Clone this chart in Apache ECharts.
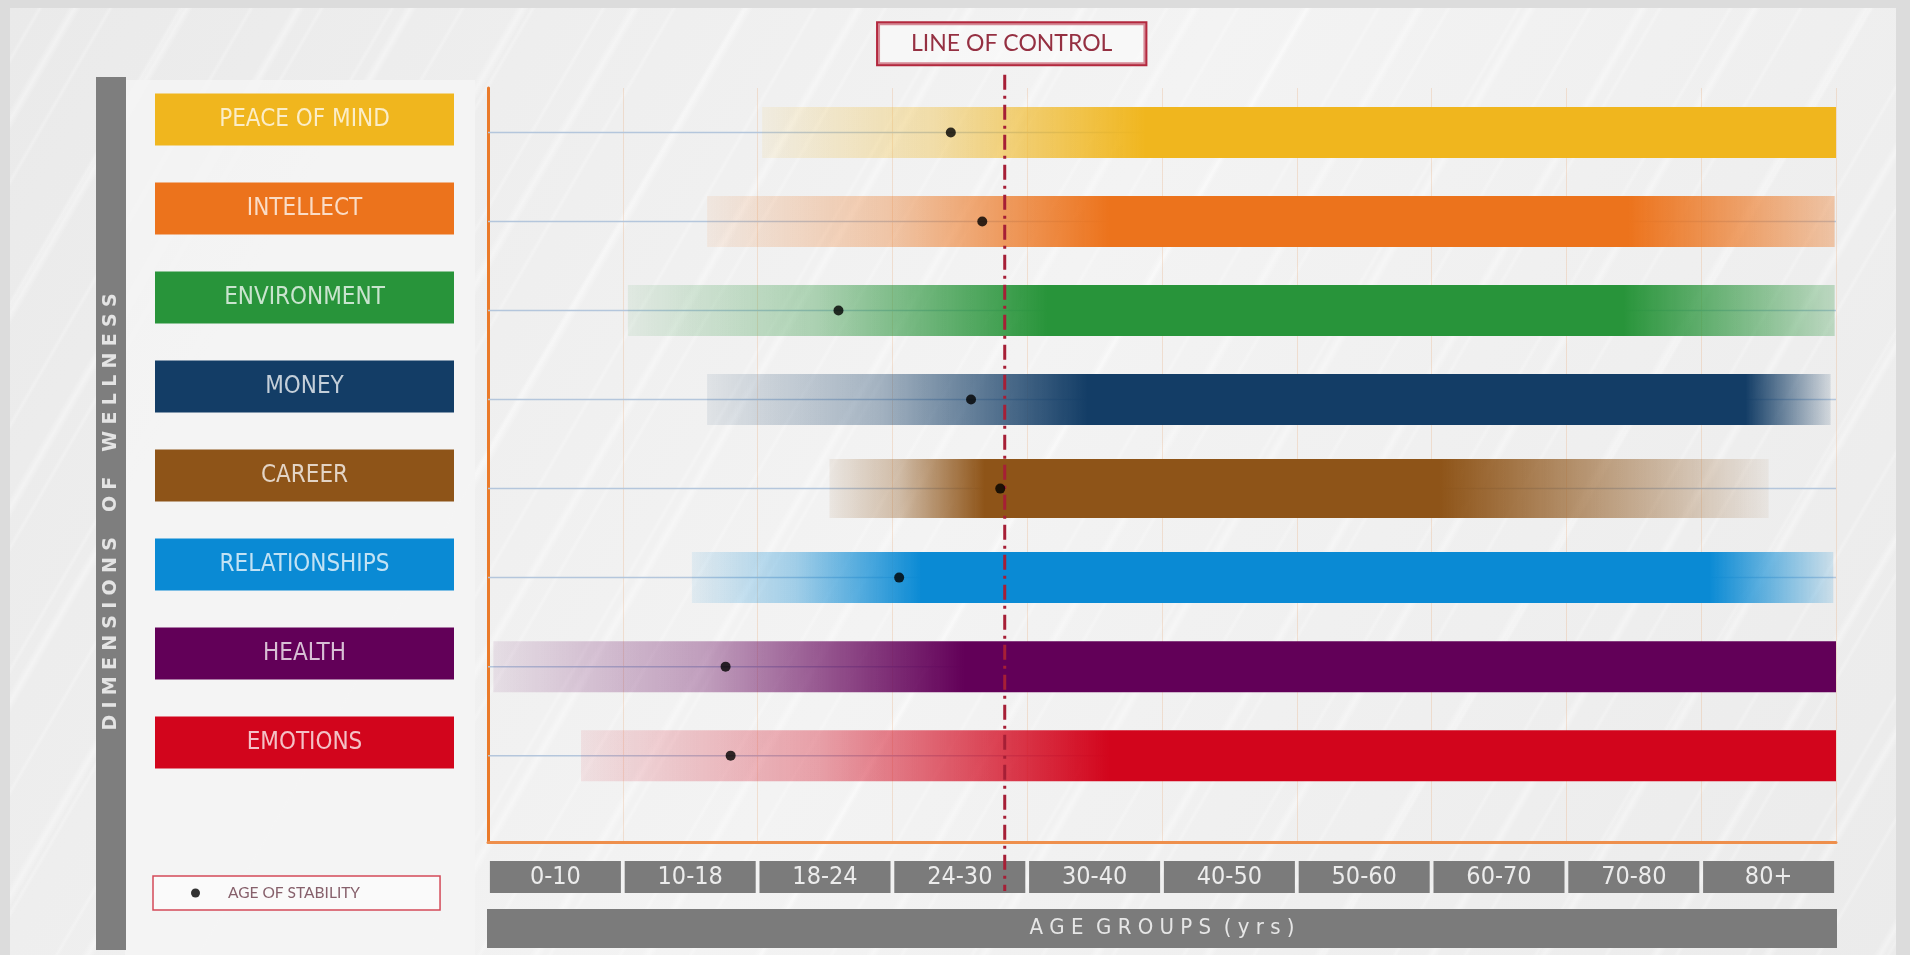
<!DOCTYPE html>
<html>
<head>
<meta charset="utf-8">
<title>Dimensions of Wellness</title>
<script src="https://cdn.jsdelivr.net/npm/echarts@6/dist/echarts.min.js"></script>
<style>
  html, body { margin: 0; padding: 0; width: 1910px; height: 955px; overflow: hidden; background: #dcdcdc; }
  #panel {
    position: absolute; left: 10px; top: 8px; width: 1886px; height: 947px;
    background:
      repeating-linear-gradient(120deg, rgba(255,255,255,0) 0px, rgba(255,255,255,0) 50px,
        rgba(255,255,255,0.38) 56px, rgba(255,255,255,0) 62px, rgba(255,255,255,0) 97px),
      repeating-linear-gradient(120deg, rgba(255,255,255,0) 0px, rgba(255,255,255,0) 23px,
        rgba(255,255,255,0.25) 26px, rgba(255,255,255,0) 29px, rgba(255,255,255,0) 61px),
      linear-gradient(120deg, #eaeaea, #f3f3f3 50%, #ebebeb);
  }
  #chart { position: absolute; left: 0; top: 0; width: 1910px; height: 955px; }
</style>
</head>
<body>
<div id="panel"></div>
<div id="chart"></div>
<script>
// rows, top to bottom
var dimensions = ["PEACE OF MIND", "INTELLECT", "ENVIRONMENT", "MONEY", "CAREER", "RELATIONSHIPS", "HEALTH", "EMOTIONS"];
var ageGroups = ["0-10", "10-18", "18-24", "24-30", "30-40", "40-50", "50-60", "60-70", "70-80", "80+"];
var ageEdges = [0, 10, 18, 24, 30, 40, 50, 60, 70, 80, 90];

// ages (yrs): band appears, becomes full, starts to fade, ends
var bandStart = [18.2, 15.0, 10.3, 15.0, 21.2, 14.1, 0.4, 6.9];
var solidFrom = [38.8, 36.1, 31.5, 34.5, 28.1, 25.3, 27.2, 36.1];
var solidTo = [90, 74.6, 74.2, 83.3, 60.6, 80.6, 90, 90];
var bandEnd = [90, 89.9, 89.9, 89.6, 85.0, 89.8, 90, 90];

var ageOfStability = [26.6, 28.0, 21.6, 27.5, 28.8, 24.3, 16.1, 16.4];
var lineOfControl = 29.0;

// styles
var dimColors = ["#f0b61e", "#ec731c", "#28943a", "#133d66", "#8e5418", "#0a8ad4", "#620058", "#d2051c"];
var endAlpha = [1, 0.35, 0.25, 0.12, 0.06, 0.15, 1, 1];
var narrow = '"Liberation Sans Narrow", "DejaVu Sans Condensed", Roboto, sans-serif';
var yMax = 8.47;

function ageToPos(a) {
    for (var i = 0; i < ageEdges.length - 1; i++) {
        if (a <= ageEdges[i + 1]) return i + (a - ageEdges[i]) / (ageEdges[i + 1] - ageEdges[i]);
    }
    return ageEdges.length - 1;
}

function rgb(hex) {
    return [parseInt(hex.slice(1, 3), 16), parseInt(hex.slice(3, 5), 16), parseInt(hex.slice(5, 7), 16)];
}
function alpha(hex, a) {
    var c = rgb(hex);
    return "rgba(" + c[0] + "," + c[1] + "," + c[2] + "," + a + ")";
}
function tint(hex, t) {
    var c = rgb(hex);
    return "rgb(" + c.map(function (v) { return Math.round(v + (255 - v) * t); }).join(",") + ")";
}

var bandData = dimensions.map(function (d, i) {
    return [i, ageToPos(bandStart[i]), ageToPos(solidFrom[i]), ageToPos(solidTo[i]), ageToPos(bandEnd[i])];
});
var dotData = dimensions.map(function (d, i) {
    return [ageToPos(ageOfStability[i]), i + 0.5];
});

function renderBand(params, api) {
    var row = api.value(0);
    var y = api.coord([0, row + 0.5])[1];
    var xa = api.coord([0, 0])[0];
    var xz = api.coord([10, 0])[0];
    var x0 = api.coord([api.value(1), 0])[0];
    var x1 = api.coord([api.value(2), 0])[0];
    var x2 = api.coord([api.value(3), 0])[0];
    var x3 = api.coord([api.value(4), 0])[0];
    var w = x3 - x0;
    var h = row === 4 ? 59 : 51;
    var c = dimColors[row];
    var fin = (x1 - x0) / w;
    var fout = (x2 - x0) / w;
    var fill = new echarts.graphic.LinearGradient(0, 0, 1, 0, [
        { offset: 0, color: alpha(c, 0.08) },
        { offset: fin * 0.45, color: alpha(c, 0.35) },
        { offset: fin, color: c },
        { offset: fout, color: c },
        { offset: 1, color: alpha(c, endAlpha[row]) }
    ]);
    return {
        type: "group",
        children: [
            { type: "line", shape: { x1: xa, y1: y, x2: xz, y2: y }, style: { stroke: "#b4c6dc", lineWidth: 1.5 } },
            { type: "rect", shape: { x: x0, y: y - h / 2, width: w, height: h }, style: { fill: fill } }
        ]
    };
}

function renderControl(params, api) {
    var top = api.coord([api.value(0), -0.15]);
    var bot = api.coord([api.value(0), yMax + 0.55]);
    return {
        type: "group",
        children: [
            { type: "line", shape: { x1: top[0], y1: top[1], x2: bot[0], y2: bot[1] },
              style: { stroke: "#a61f36", lineWidth: 3, lineDash: [15, 6, 3, 6] } },
            { type: "text", x: top[0] + 7, y: top[1] - 31,
              style: { text: "LINE OF CONTROL", align: "center", verticalAlign: "middle",
                       fill: "#953042", font: "23px Lato, sans-serif",
                       backgroundColor: "rgba(255,255,255,0.45)", borderColor: "#b3283e", borderWidth: 2,
                       padding: [9, 33, 9, 33] } }
        ]
    };
}

var dimRich = {};
dimensions.forEach(function (d, i) {
    dimRich["c" + i] = {
        width: 299, height: 52, lineHeight: 52, align: "center",
        backgroundColor: dimColors[i], color: tint(dimColors[i], 0.75),
        fontSize: 24, fontFamily: narrow
    };
});

var sp = "\u2004";
var sideTitle = "DIMENSIONS OF WELLNESS".split(" ").map(function (w) {
    return w.split("").join(sp);
}).join(sp + sp + sp + sp);

var option = {
    backgroundColor: "transparent",
    animation: false,
    grid: [
        { left: 488, top: 88, width: 1348, height: 754, outerBoundsMode: "none" },
        { left: 488, top: 75, width: 10, height: 712, outerBoundsMode: "none" }
    ],
    legend: {
        left: 153, top: 876,
        data: ["AGE OF STABILITY"],
        icon: "circle", itemWidth: 9, itemHeight: 9,
        backgroundColor: "#fafafa", borderColor: "#d34a58", borderWidth: 1.5,
        padding: [9, 80, 9, 38],
        formatter: function (n) { return "{t|" + n + "}"; },
        textStyle: { rich: { t: { padding: [0, 0, 0, 23], color: "#86606b", fontSize: 15.5, fontFamily: "Lato, sans-serif" } } }
    },
    xAxis: [
        {
            gridIndex: 0, type: "value", min: 0, max: 10, interval: 1,
            axisLine: { show: true, onZero: false, lineStyle: { color: "#ee8f4c", width: 3 } },
            axisTick: { show: false }, axisLabel: { show: false },
            splitLine: { show: true, lineStyle: { color: "rgba(235,170,120,0.28)", width: 1 } }
        },
        {
            gridIndex: 0, type: "category", position: "bottom", data: ageGroups,
            axisLine: { show: false }, axisTick: { show: false }, splitLine: { show: false },
            axisLabel: {
                margin: 19, interval: 0,
                formatter: function (v) { return "{b|" + v + "}"; },
                rich: { b: { width: 131, height: 32, lineHeight: 32, align: "center",
                             backgroundColor: "#7b7b7b", color: "#ececec", fontSize: 25, fontFamily: narrow } }
            },
            name: "{n|A G E  G R O U P S  ( y r s )}",
            nameLocation: "middle", nameGap: 67,
            nameTextStyle: { rich: { n: { width: 1350, height: 39, lineHeight: 39, align: "center",
                                          backgroundColor: "#7b7b7b", color: "#e6e6e6", fontSize: 22, fontFamily: narrow } } }
        },
        { gridIndex: 1, type: "value", show: false }
    ],
    yAxis: [
        {
            gridIndex: 0, type: "value", inverse: true, min: 0, max: yMax,
            axisLine: { show: true, onZero: false, lineStyle: { color: "#ea7a2a", width: 3 } },
            axisTick: { show: false }, axisLabel: { show: false }, splitLine: { show: false }
        },
        {
            gridIndex: 1, type: "category", inverse: true, data: dimensions,
            axisLine: { show: false }, axisTick: { show: false }, splitLine: { show: false },
            axisLabel: {
                margin: 34, interval: 0,
                formatter: function (v, i) { return "{c" + i + "|" + v + "}"; },
                rich: dimRich
            }
        }
    ],
    graphic: [
        { type: "rect", z: -10, silent: true, shape: { x: 125, y: 80, width: 350, height: 875 },
          style: { fill: "rgba(244,244,244,0.9)" } },
        { type: "rect", silent: true, shape: { x: 96, y: 77, width: 30, height: 873 },
          style: { fill: "#7e7e7e" } },
        { type: "text", silent: true, x: 111, y: 512, rotation: Math.PI / 2,
          style: { text: sideTitle, align: "center", verticalAlign: "middle",
                   fill: "#e4e4e4", font: "bold 19px 'DejaVu Sans', sans-serif" } }
    ],
    series: [
        { type: "custom", name: "bands", xAxisIndex: 0, yAxisIndex: 0, z: 2,
          renderItem: renderBand, data: bandData },
        { type: "custom", name: "control", xAxisIndex: 0, yAxisIndex: 0, z: 3, clip: false,
          renderItem: renderControl, data: [[ageToPos(lineOfControl)]] },
        { type: "scatter", name: "AGE OF STABILITY", xAxisIndex: 0, yAxisIndex: 0, z: 4,
          symbolSize: 10, itemStyle: { color: "#000" }, data: dotData }
    ]
};

echarts.init(document.getElementById("chart")).setOption(option);
</script>
</body>
</html>
